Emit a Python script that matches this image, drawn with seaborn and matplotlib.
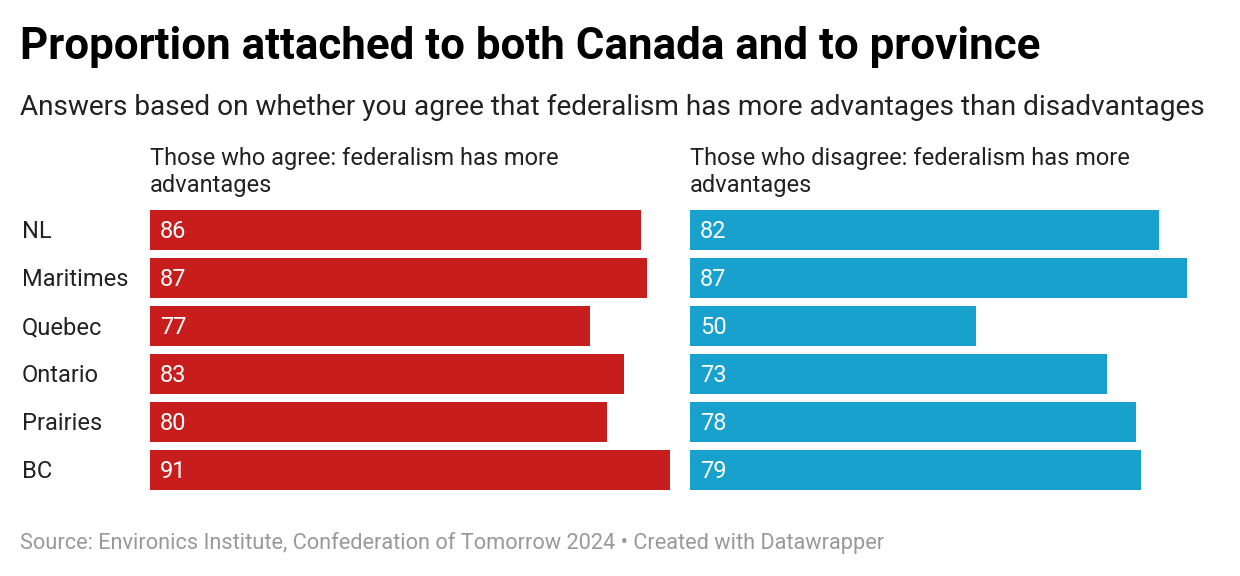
import matplotlib
matplotlib.use('Agg')
import matplotlib.pyplot as plt
import matplotlib.transforms as mtransforms
import seaborn as sns
import pandas as pd

regions = ['NL', 'Maritimes', 'Quebec', 'Ontario', 'Prairies', 'BC']
agree = [86, 87, 77, 83, 80, 91]
disagree = [82, 87, 50, 73, 78, 79]
panel_titles = ['Those who agree: federalism has more\nadvantages',
                'Those who disagree: federalism has more\nadvantages']
colors = ['#c71e1d', '#18a1cd']

sns.set_theme(style='white')
plt.rcParams['font.family'] = ['Roboto', 'DejaVu Sans']

fig = plt.figure(figsize=(12.4, 5.76), dpi=100)
ax1 = fig.add_axes([150/1240, 1 - 494/576, 520/1240, 288/576])
ax2 = fig.add_axes([690/1240, 1 - 494/576, 520/1240, 288/576])

for ax, vals, col, ttl in zip([ax1, ax2], [agree, disagree], colors, panel_titles):
    df = pd.DataFrame({'region': regions, 'value': vals})
    sns.barplot(data=df, x='value', y='region', orient='h', color=col,
                saturation=1, width=0.833, linewidth=0, ax=ax)
    ax.set_xlim(0, 91)
    ax.set_ylim(5.5, -0.5)
    ax.axis('off')
    for i, v in enumerate(vals):
        ax.text(1.75, i - 0.02, str(v), color='white', fontsize=17,
                va='center_baseline', ha='left')
    ax.text(0, 1.0 + 59/288, ttl, transform=ax.transAxes, fontsize=17,
            color='#222222', va='top', ha='left', linespacing=1.22)

trans = mtransforms.blended_transform_factory(fig.transFigure, ax1.transData)
for i, r in enumerate(regions):
    ax1.text(22/1240, i - 0.02, r, transform=trans, fontsize=17, color='#222222',
             va='center_baseline', ha='left')

fig.text(20/1240, 1 - 47/576, 'Proportion attached to both Canada and to province',
         fontsize=31.6, fontweight='bold', color='#000000', va='center', ha='left')
fig.text(20/1240, 1 - 107/576,
         'Answers based on whether you agree that federalism has more advantages than disadvantages',
         fontsize=20.15, color='#222222', va='center', ha='left')
fig.text(20/1240, 1 - 543/576,
         'Source: Environics Institute, Confederation of Tomorrow 2024 \u2022 Created with Datawrapper',
         fontsize=15.7, color='#999999', va='center', ha='left')

fig.savefig('out.png', dpi=100, facecolor='white')
